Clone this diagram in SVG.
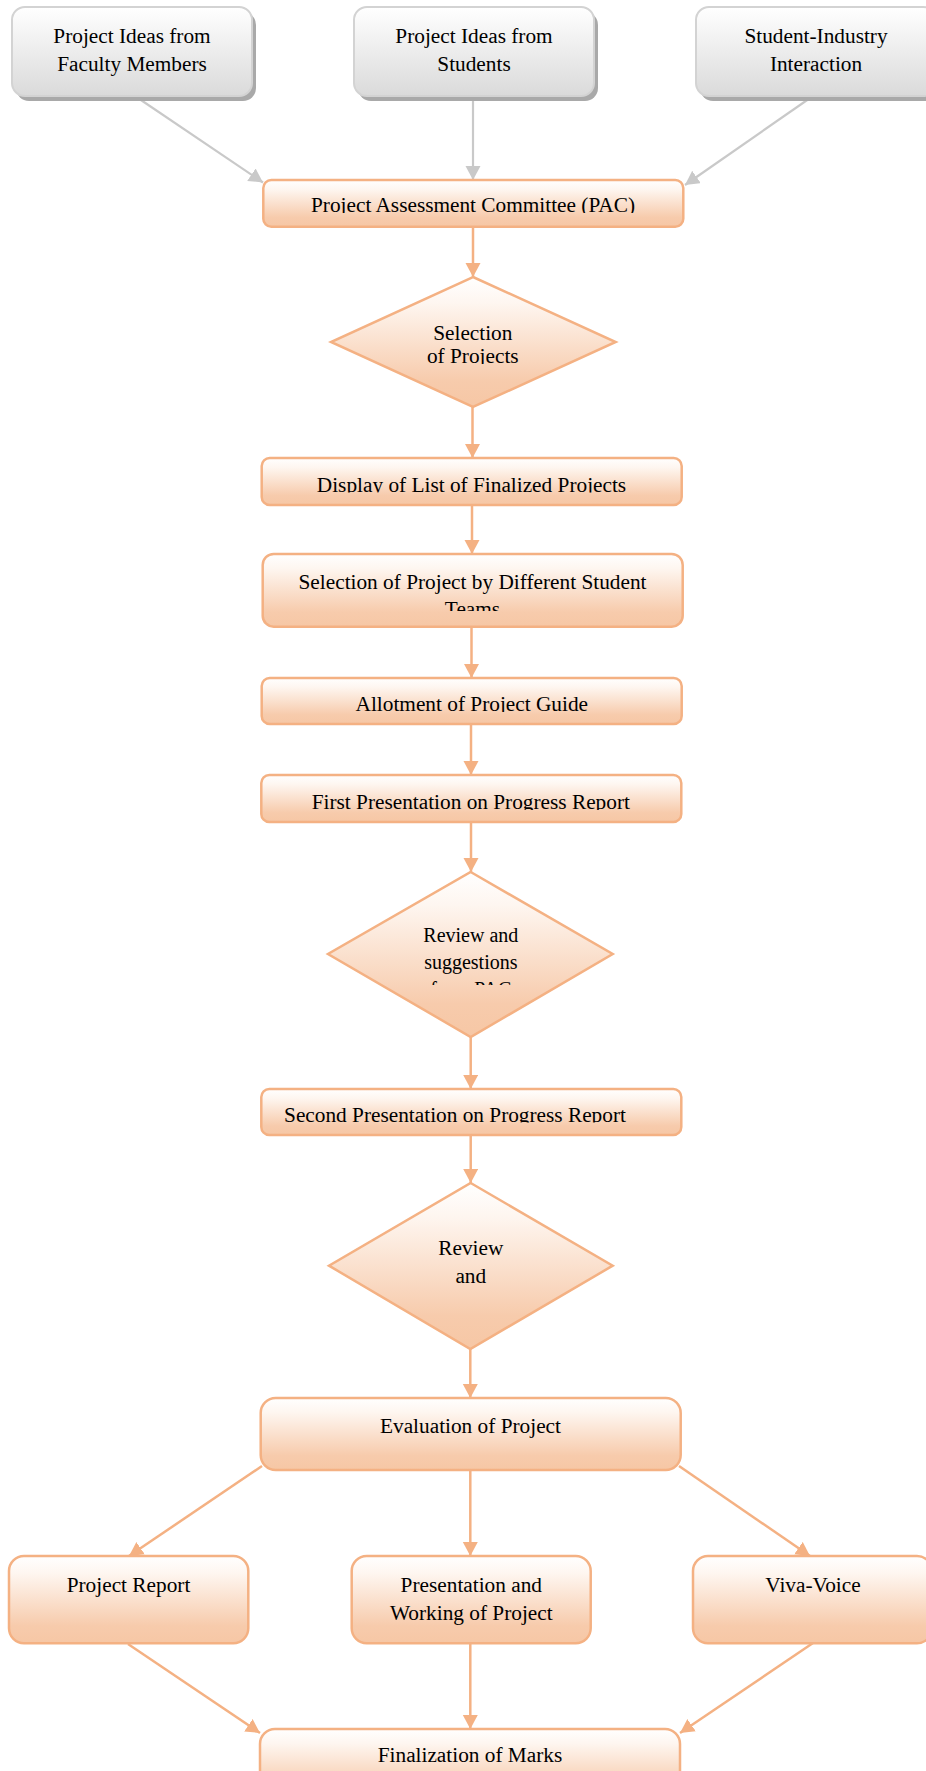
<svg xmlns="http://www.w3.org/2000/svg" width="926" height="1771" viewBox="0 0 926 1771">
<defs>
<linearGradient id="gOr" x1="0" y1="0" x2="0" y2="1">
<stop offset="0" stop-color="#FFFFFF"/>
<stop offset="0.2" stop-color="#FEF6F0"/>
<stop offset="0.8" stop-color="#F7CBAC"/>
<stop offset="1" stop-color="#F6C7A5"/>
</linearGradient>
<linearGradient id="gGr" x1="0" y1="0" x2="0" y2="1">
<stop offset="0" stop-color="#FFFFFF"/>
<stop offset="1" stop-color="#DADADA"/>
</linearGradient>
<marker id="aO" markerUnits="userSpaceOnUse" markerWidth="16" markerHeight="16" refX="14" refY="7.5" orient="auto">
<path d="M0,0 L14,7.5 L0,15 z" fill="#F4B183"/>
</marker>
<marker id="aG" markerUnits="userSpaceOnUse" markerWidth="16" markerHeight="16" refX="14" refY="7.5" orient="auto">
<path d="M0,0 L14,7.5 L0,15 z" fill="#C9C9C9"/>
</marker>
<clipPath id="cPAC" clipPathUnits="userSpaceOnUse"><rect x="0" y="0" width="926" height="213"/></clipPath>
<clipPath id="cD1" clipPathUnits="userSpaceOnUse"><rect x="0" y="0" width="926" height="364"/></clipPath>
<clipPath id="cDisp" clipPathUnits="userSpaceOnUse"><rect x="0" y="0" width="926" height="492.5"/></clipPath>
<clipPath id="cSel" clipPathUnits="userSpaceOnUse"><rect x="0" y="0" width="926" height="611"/></clipPath>
<clipPath id="cAll" clipPathUnits="userSpaceOnUse"><rect x="0" y="0" width="926" height="712"/></clipPath>
<clipPath id="cFirst" clipPathUnits="userSpaceOnUse"><rect x="0" y="0" width="926" height="810"/></clipPath>
<clipPath id="cD2" clipPathUnits="userSpaceOnUse"><rect x="0" y="0" width="926" height="985"/></clipPath>
<clipPath id="cSec" clipPathUnits="userSpaceOnUse"><rect x="0" y="0" width="926" height="1122.5"/></clipPath>
</defs>
<style>
.ob{fill:url(#gOr);stroke:#F4B183;stroke-width:2.5}
.gb{fill:url(#gGr);stroke:#D3D3D3;stroke-width:2}
.sh{fill:#A9A9A9}
.t{font-family:"Liberation Serif","Times New Roman",serif;font-size:21.3px;fill:#000;text-anchor:middle}
.t2{font-family:"Liberation Serif","Times New Roman",serif;font-size:20px;fill:#000;text-anchor:middle}
.co{stroke:#F4B183;stroke-width:2.5;fill:none;marker-end:url(#aO)}
.cg{stroke:#C9C9C9;stroke-width:2.2;fill:none;marker-end:url(#aG)}
</style>
<rect width="926" height="1771" fill="#FFFFFF"/>

<g id="connectors">
<line class="cg" x1="135" y1="96" x2="263" y2="182.5"/>
<line class="cg" x1="473" y1="96" x2="473" y2="180"/>
<line class="cg" x1="813" y1="96" x2="685" y2="185"/>
<line class="co" x1="473" y1="227" x2="473" y2="277"/>
<line class="co" x1="472.5" y1="407" x2="472.5" y2="458"/>
<line class="co" x1="472" y1="505" x2="472" y2="554"/>
<line class="co" x1="471.5" y1="627" x2="471.5" y2="678"/>
<line class="co" x1="471" y1="724" x2="471" y2="775"/>
<line class="co" x1="471" y1="822" x2="471" y2="872"/>
<line class="co" x1="470.7" y1="1037" x2="470.7" y2="1089"/>
<line class="co" x1="470.7" y1="1135" x2="470.7" y2="1183"/>
<line class="co" x1="470.3" y1="1349" x2="470.3" y2="1398"/>
<line class="co" x1="262" y1="1466" x2="129" y2="1556"/>
<line class="co" x1="470.3" y1="1470" x2="470.3" y2="1556"/>
<line class="co" x1="679" y1="1466" x2="810" y2="1556"/>
<line class="co" x1="128" y1="1644" x2="260" y2="1733"/>
<line class="co" x1="470.3" y1="1643" x2="470.3" y2="1729"/>
<line class="co" x1="813" y1="1643" x2="680" y2="1733"/>
</g>

<g id="n-faculty">
<rect class="sh" x="16" y="12" width="240" height="89" rx="13"/>
<rect class="gb" x="12" y="7" width="240" height="89" rx="13"/>
<text class="t" x="132" y="42.7">Project Ideas from</text>
<text class="t" x="132" y="71">Faculty Members</text>
</g>
<g id="n-students">
<rect class="sh" x="358" y="12" width="240" height="89" rx="13"/>
<rect class="gb" x="354" y="7" width="240" height="89" rx="13"/>
<text class="t" x="474" y="42.7">Project Ideas from</text>
<text class="t" x="474" y="71">Students</text>
</g>
<g id="n-industry">
<rect class="sh" x="700" y="12" width="240" height="89" rx="13"/>
<rect class="gb" x="696" y="7" width="240" height="89" rx="13"/>
<text class="t" x="816" y="42.7">Student-Industry</text>
<text class="t" x="816" y="71">Interaction</text>
</g>

<g id="n-pac">
<rect class="ob" x="263.3" y="180" width="420" height="46.7" rx="8"/>
<text class="t" x="473" y="212.3" clip-path="url(#cPAC)">Project Assessment Committee (PAC)</text>
</g>

<g id="n-selection">
<polygon class="ob" points="473,277 615.7,342 473,407 331,342"/>
<text class="t" x="472.8" y="340">Selection</text>
<text class="t" x="472.8" y="363.3" clip-path="url(#cD1)">of Projects</text>
</g>

<g id="n-display">
<rect class="ob" x="261.7" y="458" width="420" height="47" rx="8"/>
<text class="t" x="471.5" y="491.7" clip-path="url(#cDisp)">Display of List of Finalized Projects</text>
</g>

<g id="n-teams">
<rect class="ob" x="262.7" y="554" width="420" height="72.7" rx="11"/>
<text class="t" x="472.5" y="589">Selection of Project by Different Student</text>
<text class="t" x="472.5" y="615.7" clip-path="url(#cSel)">Teams</text>
</g>

<g id="n-allot">
<rect class="ob" x="261.7" y="678" width="420" height="46" rx="8"/>
<text class="t" x="471.8" y="711" clip-path="url(#cAll)">Allotment of Project Guide</text>
</g>

<g id="n-first">
<rect class="ob" x="261.3" y="775" width="420" height="47" rx="8"/>
<text class="t" x="470.8" y="809" clip-path="url(#cFirst)">First Presentation on Progress Report</text>
</g>

<g id="n-review1">
<polygon class="ob" points="470.7,872 612.7,954 470.7,1037 328,954"/>
<text class="t2" x="470.8" y="942">Review and</text>
<text class="t2" x="470.8" y="969">suggestions</text>
<text class="t2" x="470.8" y="996" clip-path="url(#cD2)">from PAC</text>
</g>

<g id="n-second">
<rect class="ob" x="261.3" y="1089" width="420" height="46" rx="8"/>
<text class="t" x="455" y="1121.7" clip-path="url(#cSec)">Second Presentation on Progress Report</text>
</g>

<g id="n-review2">
<polygon class="ob" points="470.7,1183 612.7,1265.7 470.3,1349 329,1265.7"/>
<text class="t" x="470.8" y="1255">Review</text>
<text class="t" x="470.8" y="1282.7">and</text>
</g>

<g id="n-eval">
<rect class="ob" x="260.7" y="1398" width="420" height="72" rx="15"/>
<text class="t" x="470.5" y="1432.7">Evaluation of Project</text>
</g>

<g id="n-report">
<rect class="ob" x="9" y="1556" width="239.3" height="87.3" rx="15"/>
<text class="t" x="128.5" y="1592">Project Report</text>
</g>

<g id="n-present">
<rect class="ob" x="351.7" y="1556" width="239" height="87.3" rx="15"/>
<text class="t" x="471.3" y="1591.7">Presentation and</text>
<text class="t" x="471.3" y="1620">Working of Project</text>
</g>

<g id="n-viva">
<rect class="ob" x="693" y="1556" width="239" height="87.3" rx="15"/>
<text class="t" x="813" y="1592">Viva-Voice</text>
</g>

<g id="n-final">
<rect class="ob" x="260" y="1729" width="420" height="72" rx="15"/>
<text class="t" x="470" y="1762">Finalization of Marks</text>
</g>
</svg>
